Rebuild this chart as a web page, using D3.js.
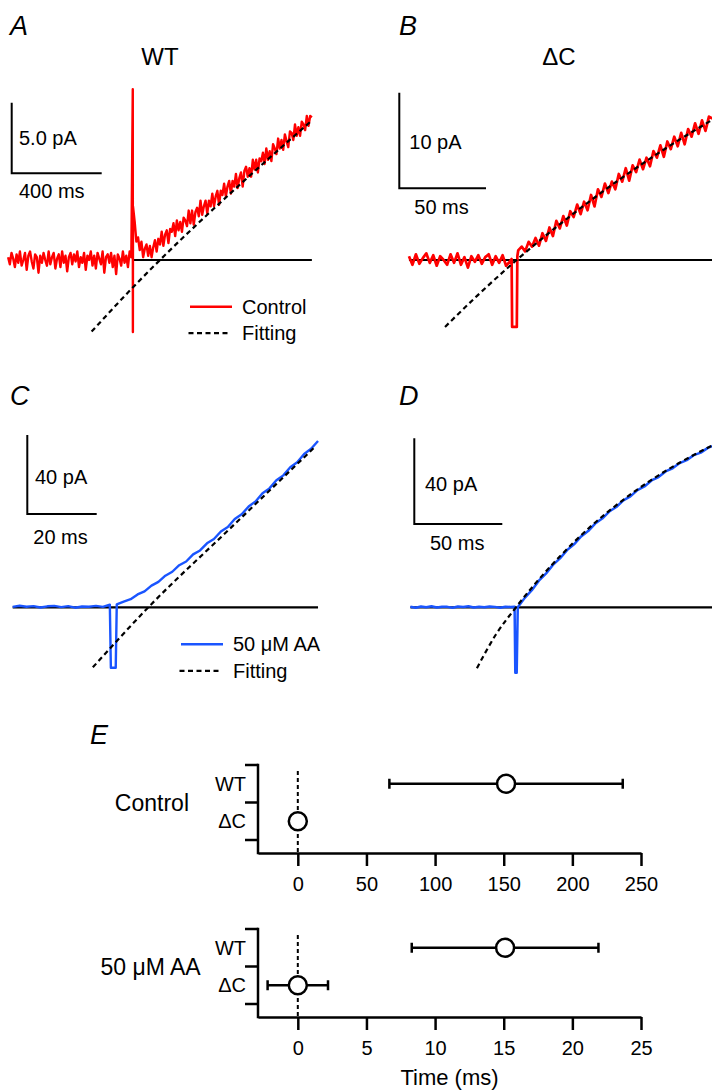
<!DOCTYPE html>
<html>
<head>
<meta charset="utf-8">
<script src="https://cdn.jsdelivr.net/npm/d3@7"></script>
<style>
body { margin: 0; background: #fff; }
text { font-family: "Liberation Sans", Arial, Helvetica, sans-serif; fill: #000; }
</style>
</head>
<body>
<script>
var W = 712, H = 1092;
var RED = "#ff0000", BLUE = "#1a55ff";

// ---- traces: time (ms) / current (pA) ----
// A: WT, control
var tA = d3.range(-555, 800, 7.5);
var controlA = [
  0.2, -0.3, 0.5, 0.1, -0.5, 0.4, -0.2, 0.6, -0.4, 0.0,
  0.5, -0.7, 0.3, 0.6, -0.1, -0.6, 0.4, 0.2, -0.9, 0.3,
  -0.2, 0.5, 0.0, -0.4, 0.6, -0.3, 0.2, 0.5, -0.6, 0.1,
  0.4, -0.5, 0.6, -0.2, 0.3, -0.8, 0.2, 0.5, -0.3, 0.4,
  -0.1, 0.6, -0.5, 0.2, -0.2, 0.5, -0.7, 0.3, 0.0, 0.6,
  -0.4, 0.3, -0.6, 0.5, 0.1, -0.3, 0.6, -0.9, 0.2, 0.4,
  -0.2, 0.5, -0.5, 0.3, -1.0, 0.4, 0.1, -0.4, 0.6, -0.2,
  0.3, -0.5, 0.6, 0.2,
  3.8, 2.7, 1.3, 1.6, 0.7, 1.3, 0.2, 0.8, 1.1, 0.3,
  1.0, 0.2, 0.9, 1.4, 0.6, 1.5, 1.1, 2.0, 1.0, 1.8,
  2.1, 1.2, 2.2, 2.0, 2.6, 1.7, 2.8, 2.1, 2.7, 2.0,
  3.0, 2.8, 2.4, 3.5, 2.6, 3.5, 2.5, 3.4, 3.7, 3.1,
  4.2, 3.2, 3.8, 4.2, 3.3, 4.2, 3.8, 4.7, 3.8, 4.5,
  4.9, 3.9, 4.9, 4.6, 5.4, 4.5, 5.2, 5.6, 4.7, 5.6,
  5.2, 6.1, 5.1, 5.8, 6.2, 5.2, 6.3, 6.6, 5.9, 6.5,
  5.9, 7.1, 6.4, 7.1, 6.2, 7.2, 7.0, 7.6, 6.8, 7.9,
  7.1, 7.7, 7.0, 8.2, 7.9, 7.5, 8.6, 7.9, 8.5, 7.8,
  8.9, 8.4, 8.0, 9.1, 9.0, 8.5, 9.6, 8.8, 9.4, 8.8,
  9.8, 9.6, 9.2, 10.2, 9.5, 10.2, 10.1];
var spikeA = [[-1, 12.1], [-0.5, -5.1]];
var fitA = [[-184, -5.07], [1.3, -1.91], [120, 0], [458, 5.09], [796, 9.9]];

// B: ΔC, control
var tB = d3.range(-60, -1, 2).concat(d3.range(3, 116, 2));
var controlB = [0.4, -0.5, 0.6, -0.4, 0.2, 0.7, -0.3, 0.5, -0.6, 0.4, 0.0, -0.5, 0.6, -0.3, 0.7, -0.5, 0.3, -0.8, 0.4, -0.2,
  0.5, -0.4, 0.3, 0.6, -0.5, 0.4, -0.3, 0.5, -0.6, -0.2,
  1.0, 1.4, 0.9, 1.9, 1.4, 2.3, 1.5, 2.8, 2.0, 3.4, 2.5, 4.1, 3.3, 4.6, 3.6, 5.1, 4.5, 5.8, 4.8, 6.1,
  5.2, 6.8, 5.6, 7.4, 6.6, 8.0, 7.0, 8.2, 7.4, 9.0, 8.2, 9.6, 8.3, 9.9, 9.2, 10.5, 9.5, 10.7, 9.8, 11.4,
  10.7, 12.0, 10.8, 12.4, 11.6, 12.9, 11.9, 13.3, 12.1, 13.7, 12.9, 14.3, 13.2, 14.6, 13.5, 15.0, 14.8];
var spikeB = [[-0.8, 0.1], [-0.5, -7.0], [2.2, -7.0], [2.5, 0.4]];
var fitB = [[-39.2, -7.0], [-20.9, -3.78], [2.1, 0], [31, 4.31], [59.8, 8.21], [88.6, 11.74], [115, 14.67]];

// C: WT, 50 µM AA
var tC = d3.range(-29, 0, 2).concat(d3.range(1, 60, 2));
var aaC = [0.2, 0.8, 0.3, 0.6, -0.1, 0.5, 0.7, 0.1, 0.6, -0.2, 0.4, 0.3, 0.7, 0.2, 1.3,
  1.5, 2.9, 4.1, 6.5, 8.1, 11.0, 12.9, 16.0, 18.0, 21.3, 23.2, 26.8, 28.8, 32.4, 34.6,
  38.4, 40.7, 44.7, 47.1, 51.0, 53.6, 57.7, 60.2, 64.3, 66.8, 70.9, 73.4, 77.6, 80.3, 84.2];
var spikeC = [[-0.7, -30.6], [0.7, -30.6]];
var fitC = [[-5.9, -30.4], [10.1, 0], [33.6, 39.8], [58.4, 81.7]];

// D: ΔC, 50 µM AA
var tD = d3.range(-60, -2, 3).concat(d3.range(1, 114, 4));
var aaD = [0.3, -0.2, 0.4, 0.0, 0.5, -0.1, 0.3, 0.2, -0.2, 0.4, 0.1, 0.5, -0.1, 0.3, 0.0, 0.4, 0.2, -0.2, 0.3, 0.1,
  0.0, 4.4, 8.0, 12.4, 15.7, 19.8, 22.8, 26.7, 29.4, 33.1, 35.6, 39.1, 41.4, 44.7, 46.8, 49.9, 51.8,
  54.7, 56.4, 59.2, 60.8, 63.4, 64.9, 67.3, 68.7, 71.0, 72.2, 74.4, 75.7];
var spikeD = [[-0.8, 0.2], [-0.4, -30.5], [0.4, -30.5]];
var fitD = [[-22.2, -28.4], [-11.4, -12.7], [0, 0], [11.4, 11.5], [25, 23.8], [42, 37.4], [59.1, 49.0],
  [76.1, 59.0], [93.2, 67.6], [111.4, 75.5]];

// ---- E: latency of current onset (ms), mean ± error ----
var groups = ["WT", "ΔC"];
var controlMean = [151.7, 0], controlErr = [85, 1.5];
var aaMean = [15.1, 0], aaErr = [6.8, 2.2];
var ticksControl = [0, 50, 100, 150, 200, 250];
var ticksAA = [0, 5, 10, 15, 20, 25];

var svg = d3.select("body").append("svg")
  .attr("width", W).attr("height", H);

function pairs(t, v, spike) {
  return t.map(function(d, i) { return [d, v[i]]; })
    .concat(spike)
    .sort(function(a, b) { return a[0] - b[0]; });
}

function label(x, y, s, size, anchor, italic) {
  svg.append("text").attr("x", x).attr("y", y)
    .attr("font-size", size)
    .attr("text-anchor", anchor || "start")
    .attr("font-style", italic ? "italic" : "normal")
    .text(s);
}

function tracePanel(p) {
  var x = d3.scaleLinear().domain([0, p.barT]).range([p.x0, p.x0 + p.barTpx]);
  var y = d3.scaleLinear().domain([0, p.barI]).range([p.y0, p.y0 - p.barIpx]);
  var line = d3.line().x(function(d) { return x(d[0]); }).y(function(d) { return y(d[1]); });
  var g = svg.append("g");

  var data = pairs(p.t, p.v, p.spike);
  var tmin = d3.min(data, function(d) { return d[0]; });
  var tmax = d3.max(data, function(d) { return d[0]; });

  g.append("path").datum([[p.baseFrom == null ? tmin : p.baseFrom, 0], [tmax, 0]])
    .attr("d", line).attr("fill", "none").attr("stroke", "#000").attr("stroke-width", 2.2);

  g.append("path").datum(data)
    .attr("d", line).attr("fill", "none")
    .attr("stroke", p.color).attr("stroke-width", p.width)
    .attr("stroke-linejoin", "round");

  g.append("path").datum(p.fit)
    .attr("d", line.curve(d3.curveMonotoneX)).attr("fill", "none")
    .attr("stroke", "#000").attr("stroke-width", 2.2)
    .attr("stroke-dasharray", "5,3.5");

  // scale bar
  var bx = p.bar[0], by = p.bar[1];
  var lx = x(p.barT) - x(0), ly = y(0) - y(p.barI);
  g.append("path")
    .attr("d", "M" + bx + "," + (by - ly) + "V" + by + "H" + (bx + lx))
    .attr("fill", "none").attr("stroke", "#000").attr("stroke-width", 2);
  label(p.iLab[0], p.iLab[1], p.iText, 20);
  label(p.tLab[0], p.tLab[1], p.tText, 20);

  label(p.letter[0], p.letter[1], p.letterText, 27, "start", true);

  if (p.legend) {
    var lg = p.legend;
    g.append("line").attr("x1", lg.x).attr("x2", lg.x + 42).attr("y1", lg.y).attr("y2", lg.y)
      .attr("stroke", p.color).attr("stroke-width", 2.5);
    g.append("line").attr("x1", lg.x - 1.5).attr("x2", lg.x + 40.5).attr("y1", lg.y + 26.5).attr("y2", lg.y + 26.5)
      .attr("stroke", "#000").attr("stroke-width", 2.2).attr("stroke-dasharray", "5,3.5");
    label(lg.x + 52, lg.y + 7, lg.text, 20);
    label(lg.x + 52, lg.y + 33.5, "Fitting", 20);
  }
}

tracePanel({ t: tA, v: controlA, spike: spikeA, fit: fitA, color: RED, width: 2.4,
  x0: 133, y0: 260, barT: 400, barTpx: 90, barI: 5, barIpx: 70.6, baseFrom: 0,
  bar: [11.7, 173.3], iLab: [19, 145], iText: "5.0 pA", tLab: [19, 198], tText: "400 ms",
  letter: [10, 35], letterText: "A",
  legend: { x: 190, y: 306.7, text: "Control" } });

tracePanel({ t: tB, v: controlB, spike: spikeB, fit: fitB, color: RED, width: 2.7,
  x0: 513, y0: 260, barT: 50, barTpx: 86.7, barI: 10, barIpx: 95.6,
  bar: [399.3, 188.3], iLab: [409.3, 149], iText: "10 pA", tLab: [414.3, 214], tText: "50 ms",
  letter: [399, 35], letterText: "B" });

tracePanel({ t: tC, v: aaC, spike: spikeC, fit: fitC, color: BLUE, width: 2.4,
  x0: 113.3, y0: 607.3, barT: 20, barTpx: 69.4, barI: 40, barIpx: 79,
  bar: [27.3, 514], iLab: [35, 484], iText: "40 pA", tLab: [33.3, 544], tText: "20 ms",
  letter: [10, 405], letterText: "C",
  legend: { x: 181, y: 644.3, text: "50 μM AA" } });

tracePanel({ t: tD, v: aaD, spike: spikeD, fit: fitD, color: BLUE, width: 2.5,
  x0: 516, y0: 607.3, barT: 50, barTpx: 88, barI: 40, barIpx: 85.7,
  bar: [414.3, 524], iLab: [425, 491], iText: "40 pA", tLab: [430, 550], tText: "50 ms",
  letter: [399, 405], letterText: "D" });

label(160, 65, "WT", 24, "middle");
label(559, 65, "ΔC", 24, "middle");

// ---- panel E ----
function dotPanel(p) {
  var x = d3.scaleLinear().domain(p.domain).range([258, 641]);
  var y = d3.scaleBand().domain(groups).range([p.top, p.top + 75]);
  var g = svg.append("g");

  var ax = g.append("g").attr("transform", "translate(0," + p.axisY + ")")
    .call(d3.axisBottom(x).tickValues(p.ticks).tickSize(13).tickSizeOuter(0).tickPadding(11));
  ax.attr("font-size", 20).attr("font-family", null);
  ax.selectAll("path, line").attr("stroke-width", 2.5);

  var bounds = [y(groups[0]), y(groups[1]), y(groups[1]) + y.bandwidth()];
  g.append("line").attr("x1", 258).attr("x2", 258).attr("y1", p.top).attr("y2", p.axisY)
    .attr("stroke", "#000").attr("stroke-width", 2.5).attr("stroke-linecap", "square");
  g.selectAll(".yt").data(bounds).enter().append("line")
    .attr("x1", 245).attr("x2", 258).attr("y1", function(d) { return d; }).attr("y2", function(d) { return d; })
    .attr("stroke", "#000").attr("stroke-width", 2.5);
  groups.forEach(function(gr) {
    label(246, y(gr) + y.bandwidth() / 2 + 7, gr, 20, "end");
  });
  label(p.nameX, p.top + 37.5 + 8, p.name, 23, "end");

  g.append("line").attr("x1", x(0)).attr("x2", x(0)).attr("y1", p.top + 6).attr("y2", p.axisY)
    .attr("stroke", "#000").attr("stroke-width", 2).attr("stroke-dasharray", "4,3");

  groups.forEach(function(gr, i) {
    var cy = y(gr) + y.bandwidth() / 2;
    var lo = x(p.mean[i] - p.err[i]), hi = x(p.mean[i] + p.err[i]);
    g.append("path")
      .attr("d", "M" + lo + "," + cy + "H" + hi + "M" + lo + "," + (cy - 5) + "V" + (cy + 5) + "M" + hi + "," + (cy - 5) + "V" + (cy + 5))
      .attr("fill", "none").attr("stroke", "#000").attr("stroke-width", 2.5);
    g.append("circle").attr("cx", x(p.mean[i])).attr("cy", cy).attr("r", 9)
      .attr("fill", "#fff").attr("stroke", "#000").attr("stroke-width", 2.5);
  });
}

dotPanel({ domain: [-29, 250], ticks: ticksControl, top: 765, axisY: 853,
  mean: controlMean, err: controlErr, name: "Control", nameX: 189 });
dotPanel({ domain: [-2.9, 25], ticks: ticksAA, top: 929, axisY: 1017,
  mean: aaMean, err: aaErr, name: "50 μM AA", nameX: 200.6 });

label(90, 744, "E", 27, "start", true);
label(449.5, 1085, "Time (ms)", 22, "middle");
</script>
</body>
</html>
